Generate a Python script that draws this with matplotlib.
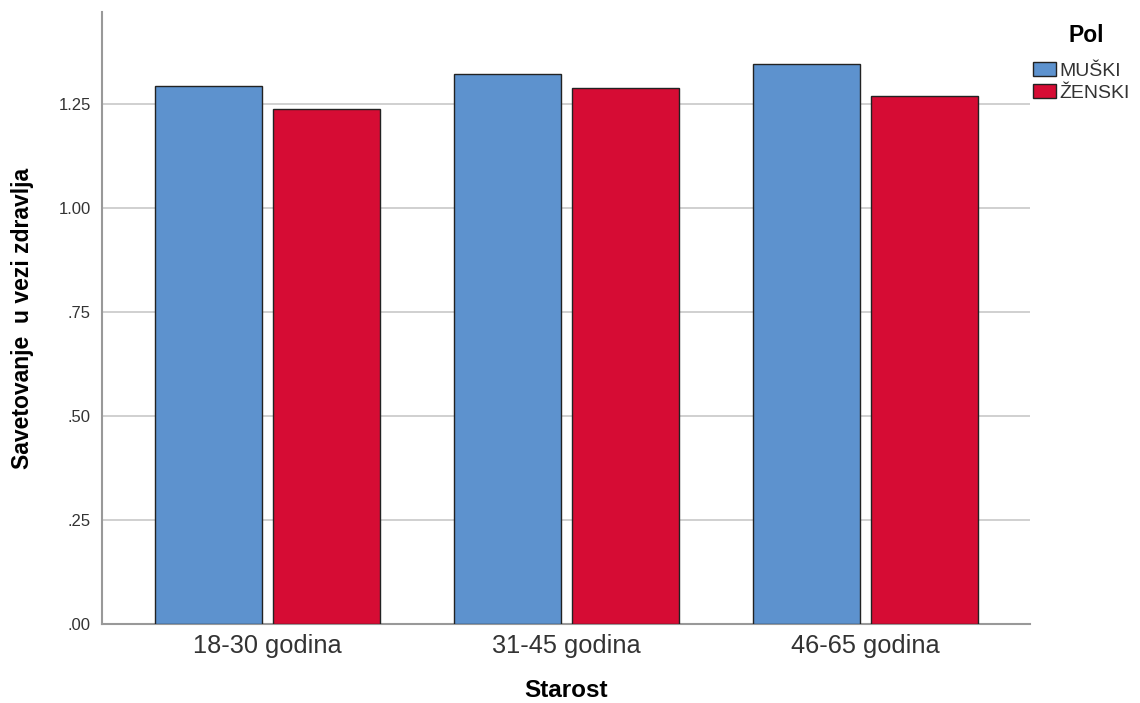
import numpy as np
import matplotlib
matplotlib.use("Agg")
import matplotlib.pyplot as plt

plt.rcParams['font.family'] = ['Liberation Sans', 'DejaVu Sans']

categories = ['18-30 godina', '31-45 godina', '46-65 godina']
series_names = ['MUŠKI', 'ŽENSKI']
muski = [1.293, 1.323, 1.347]
zenski = [1.237, 1.288, 1.268]
yticks = [0.0, 0.25, 0.5, 0.75, 1.0, 1.25]
ytick_labels = ['.00', '.25', '.50', '.75', '1.00', '1.25']

colors = ['#5D92CE', '#D60C34']

fig = plt.figure(figsize=(11.4, 7.03), dpi=100)
ax = fig.add_axes([0.0895, 0.1117, 0.814, 0.8713])

x = np.arange(len(categories))
w = 0.358
off = 0.197
b1 = ax.bar(x - off, muski, w, color=colors[0], edgecolor='#222222', linewidth=1.0, zorder=3, label=series_names[0])
b2 = ax.bar(x + off, zenski, w, color=colors[1], edgecolor='#222222', linewidth=1.0, zorder=3, label=series_names[1])

ax.set_xlim(-0.553, 2.55)
ax.set_ylim(0, 1.471)
ax.set_yticks(yticks)
ax.set_yticklabels(ytick_labels, fontsize=12, color='#333333')
ax.set_xticks(x)
ax.set_xticklabels(categories, fontsize=18.3, color='#333333')
ax.tick_params(axis='y', length=0, pad=8)
ax.tick_params(axis='x', length=0, pad=7)
ax.grid(axis='y', color='#c8c8c8', linewidth=1.2, zorder=0)

for s in ['top', 'right']:
    ax.spines[s].set_visible(False)
for s in ['left', 'bottom']:
    ax.spines[s].set_color('#999999')
    ax.spines[s].set_linewidth(1.5)

ax.set_xlabel('Starost', fontsize=17.5, fontweight='bold', labelpad=15)
ax.set_ylabel('Savetovanje  u vezi zdravlja', fontsize=16.5, fontweight='bold', labelpad=18)

# legend title drawn separately so it can sit above the entries like the original
fig.text(1086 / 1140, 1 - 35 / 703, 'Pol', ha='center', va='center', fontsize=16.5, fontweight='bold')
fig.legend(handles=[b1, b2], loc='upper left', bbox_to_anchor=(1033 / 1140, 1 - 62 / 703),
           frameon=False, fontsize=14, labelcolor='#333333',
           handlelength=1.2, handleheight=0.75, handletextpad=0.15, labelspacing=0.2,
           borderaxespad=0, borderpad=0)

fig.savefig('out.png', dpi=100)
